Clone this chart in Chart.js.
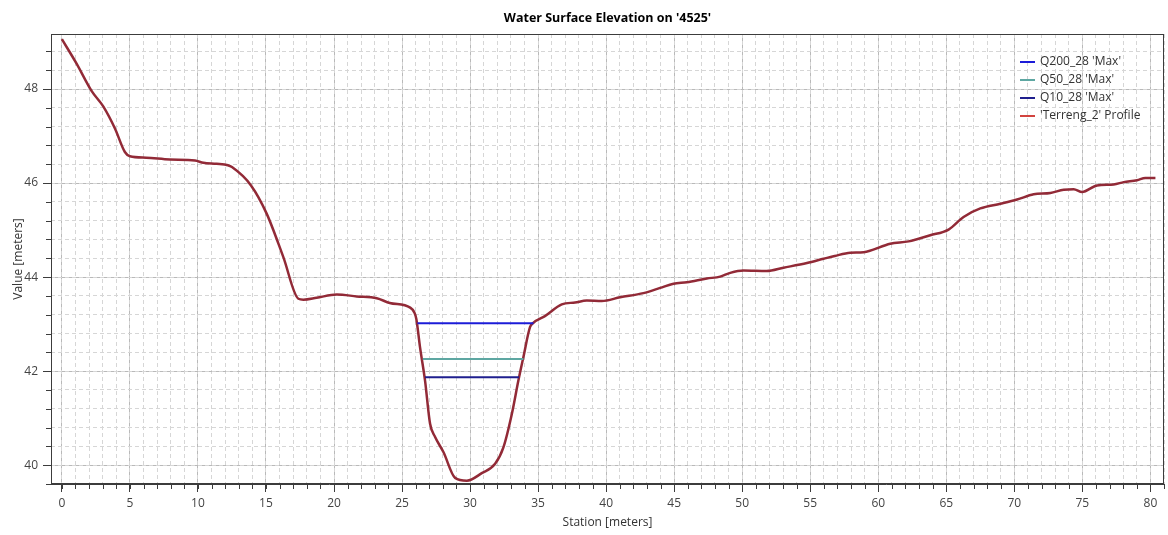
<!DOCTYPE html>
<html>
<head>
<meta charset="utf-8">
<title>Water Surface Elevation on '4525'</title>
<script src="https://cdn.jsdelivr.net/npm/chart.js@4/dist/chart.umd.min.js"></script>
<style>
    html, body { margin: 0; padding: 0; background: #fff; }
    #wrap { width: 1168px; height: 535px; position: relative; }
</style>
</head>
<body>
<div id="wrap"><canvas id="wseChart"></canvas></div>
<script>
// Terrain profile ('Terreng_2')
const terrainStation = [
    0, 1.08, 2.18, 3.04, 3.9, 4.63, 5.0, 6.2, 7.94, 9.78, 10.4, 11.37, 12.2, 12.5,
    13.9, 15.05, 16.27, 17.38, 17.75, 18.72, 20.2, 21.67, 23.14, 24.1, 25.6, 25.9,
    26.05, 26.32, 26.69, 27.06, 27.43, 28.04, 28.9, 29.76, 30.86, 31.84, 32.45, 33.07,
    33.55, 33.92, 34.41, 34.66, 35.5, 36.74, 37.72, 38.58, 39.68, 41.03, 42.74, 43.97,
    44.95, 45.93, 47.4, 48.38, 49.12, 50.1, 51.8, 53.04, 54.76, 55.98, 56.8, 57.94,
    58.92, 60.88, 62.23, 63.82, 65.17, 66.27, 67.5, 68.97, 70.2, 71.42, 72.65, 73.63,
    74.36, 74.98, 76.08, 77.3, 78.04, 79.02, 79.63, 80.37
];
const terrainElev = [
    49.06, 48.54, 47.96, 47.63, 47.16, 46.66, 46.57, 46.54, 46.50, 46.48, 46.43, 46.41, 46.38, 46.34,
    45.95, 45.35, 44.43, 43.54, 43.52, 43.56, 43.63, 43.59, 43.55, 43.45, 43.35, 43.25,
    43.11, 42.51, 41.80, 40.88, 40.60, 40.28, 39.73, 39.67, 39.83, 40.03, 40.38, 41.09,
    41.80, 42.30, 42.94, 43.03, 43.17, 43.42, 43.46, 43.50, 43.49, 43.57, 43.66, 43.77,
    43.86, 43.89, 43.97, 44.01, 44.09, 44.14, 44.13, 44.20, 44.30, 44.39, 44.45, 44.52,
    44.53, 44.71, 44.76, 44.89, 45.01, 45.28, 45.46, 45.56, 45.65, 45.76, 45.79, 45.86,
    45.87, 45.81, 45.95, 45.97, 46.02, 46.06, 46.11, 46.11
];

// Max water surface lines (start / end station of the wetted width, and level)
const q200Station = [26.13, 34.66];
const q200Elev = 43.02;
const q50Station = [26.52, 33.92];
const q50Elev = 42.26;
const q10Station = [26.69, 33.6];
const q10Elev = 41.87;

const seriesLabels = ["Q200_28 'Max'", "Q50_28 'Max'", "Q10_28 'Max'", "'Terreng_2' Profile"];

// Axis ranges and tick steps
const xRange = [-0.8, 81];
const yRange = [39.6, 49.17];
const xMajorStep = 5, xMinorStep = 1;
const yMajorStep = 2, yMinorStep = 0.4;

const FONT = "'Open Sans', 'Noto Sans', sans-serif";

const toPoints = (xs, ys) => xs.map((x, i) => ({ x, y: Array.isArray(ys) ? ys[i] : ys }));

/**
 * Frame, short minor ticks and the legend inside the plot area
 */
const frameAndLegend = {
    id: 'frameAndLegend',
    afterDraw(chart) {
        const { ctx, chartArea: a, scales } = chart;
        ctx.save();

        // box round the plot
        ctx.strokeStyle = '#3c3c3c';
        ctx.lineWidth = 1;
        ctx.strokeRect(Math.round(a.left) + 0.5, Math.round(a.top) + 0.5,
            Math.round(a.right - a.left) - 1, Math.round(a.bottom - a.top) - 1);

        // minor tick marks outside the axes
        ctx.beginPath();
        scales.xMinor.ticks.forEach(t => {
            const px = Math.round(scales.xMinor.getPixelForValue(t.value)) + 0.5;
            ctx.moveTo(px, a.bottom);
            ctx.lineTo(px, a.bottom + 5);
        });
        scales.yMinor.ticks.forEach(t => {
            const py = Math.round(scales.yMinor.getPixelForValue(t.value)) + 0.5;
            ctx.moveTo(a.left, py);
            ctx.lineTo(a.left - 5, py);
        });
        ctx.stroke();

        // legend
        const x0 = a.right - 144;
        let y = a.top + 28;
        ctx.font = '12px ' + FONT;
        ctx.textBaseline = 'middle';
        ctx.fillStyle = '#333';
        chart.data.datasets.forEach(ds => {
            ctx.strokeStyle = ds.legendColor || ds.borderColor;
            ctx.lineWidth = 2;
            ctx.beginPath();
            ctx.moveTo(x0, y);
            ctx.lineTo(x0 + 15, y);
            ctx.stroke();
            ctx.fillText(ds.label, x0 + 20, y);
            y += 18;
        });
        ctx.restore();
    }
};

const isMultiple = (v, step) => Math.abs(v / step - Math.round(v / step)) < 1e-6;

const ctx = document.getElementById('wseChart').getContext('2d');
const chart = new Chart(ctx, {
    type: 'scatter',
    data: {
        datasets: [
            {
                label: seriesLabels[0],
                data: toPoints(q200Station, q200Elev),
                borderColor: '#1c1cd8',
                borderWidth: 2,
            },
            {
                label: seriesLabels[1],
                data: toPoints(q50Station, q50Elev),
                borderColor: '#5ea7a2',
                borderWidth: 2,
            },
            {
                label: seriesLabels[2],
                data: toPoints(q10Station, q10Elev),
                borderColor: '#1f1f8e',
                borderWidth: 2,
            },
            {
                label: seriesLabels[3],
                data: toPoints(terrainStation, terrainElev),
                borderColor: '#922a37',
                legendColor: '#d2433f',
                borderWidth: 2.5,
                cubicInterpolationMode: 'monotone',
            },
        ].map(ds => Object.assign({ showLine: true, pointRadius: 0, pointHoverRadius: 0, fill: false }, ds)),
    },
    options: {
        responsive: true,
        maintainAspectRatio: false,
        animation: false,
        layout: { padding: { left: 0, right: 4, top: 0, bottom: 0 } },
        plugins: {
            legend: { display: false },
            tooltip: { enabled: false },
            title: {
                display: true,
                fullSize: false,
                text: "Water Surface Elevation on '4525'",
                color: '#000',
                font: { family: FONT, size: 12.5, weight: 'bold' },
                padding: { top: 10.5, bottom: 8.5 },
            },
        },
        scales: {
            x: {
                type: 'linear',
                min: xRange[0],
                max: xRange[1],
                afterFit: s => { s.height = 51; },
                ticks: {
                    stepSize: xMajorStep,
                    includeBounds: false,
                    color: '#444',
                    padding: 4,
                    maxRotation: 0,
                    font: { family: FONT, size: 12 },
                },
                grid: { color: '#b9b9b9', tickColor: '#3c3c3c', tickLength: 8 },
                border: { color: '#3c3c3c' },
                title: {
                    display: true,
                    text: 'Station [meters]',
                    color: '#333',
                    font: { family: FONT, size: 12 },
                    padding: { top: 0, bottom: 5 },
                },
            },
            xMinor: {
                type: 'linear',
                position: 'bottom',
                min: xRange[0],
                max: xRange[1],
                z: -1,
                afterFit: s => { s.height = 0; },
                ticks: { display: false, stepSize: xMinorStep, includeBounds: false },
                grid: { color: '#d6d6d6', drawTicks: false },
                border: { display: false, dash: [4, 3] },
            },
            y: {
                type: 'linear',
                min: yRange[0],
                max: yRange[1],
                afterFit: s => { s.width = 51; },
                ticks: {
                    stepSize: yMajorStep,
                    includeBounds: false,
                    color: '#444',
                    padding: 5,
                    font: { family: FONT, size: 12 },
                    callback: v => isMultiple(v, yMajorStep) ? String(Math.round(v)) : '',
                },
                grid: { color: '#b9b9b9', tickColor: '#3c3c3c', tickLength: 8 },
                border: { color: '#3c3c3c' },
                title: {
                    display: true,
                    text: 'Value [meters]',
                    color: '#333',
                    font: { family: FONT, size: 12 },
                    padding: { top: 11, bottom: 0 },
                },
            },
            yMinor: {
                type: 'linear',
                position: 'left',
                min: yRange[0],
                max: yRange[1],
                z: -1,
                afterFit: s => { s.width = 0; },
                ticks: { display: false, stepSize: yMinorStep, includeBounds: false },
                grid: { color: '#d6d6d6', drawTicks: false },
                border: { display: false, dash: [4, 3] },
            },
        },
    },
    plugins: [frameAndLegend],
});
</script>
</body>
</html>
